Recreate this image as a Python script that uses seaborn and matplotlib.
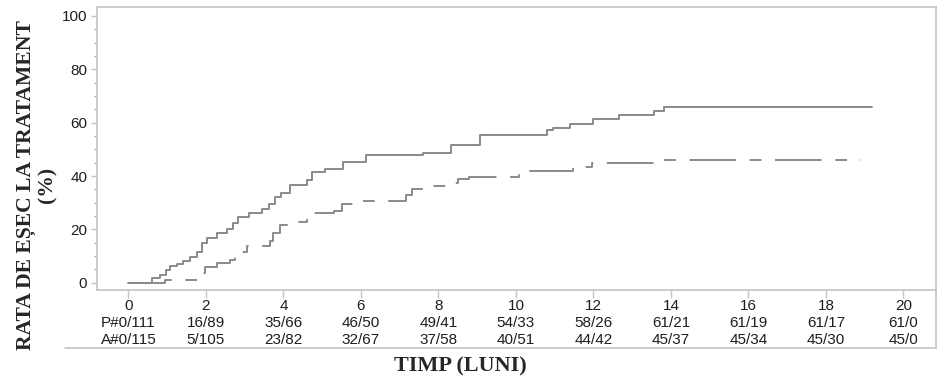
import matplotlib
matplotlib.use("Agg")
import matplotlib.pyplot as plt
import numpy as np
import pandas as pd
import seaborn as sns

# Kaplan-Meier style step curves (change points, steps-post)
P_TIME = [0, 0.61, 0.82, 0.98, 1.08, 1.25, 1.42, 1.6, 1.77, 1.9, 2.02, 2.28, 2.54, 2.71,
          2.84, 3.1, 3.45, 3.62, 3.78, 3.95, 4.17, 4.62, 4.75, 5.07, 5.54, 6.14, 7.6,
          8.33, 9.06, 10.8, 10.95, 11.4, 12.0, 12.66, 13.56, 13.82, 19.2]
P_RATE = [0, 1.7, 3, 4.9, 6.3, 7, 8, 9.8, 11.7, 14.8, 16.7, 18.5, 20, 22.3,
          24.7, 26, 27.5, 29.5, 32.3, 33.7, 36.5, 38.4, 41.5, 42.8, 45.3, 47.8, 48.6,
          51.5, 55.5, 57.1, 58, 59.6, 61.2, 62.8, 64.3, 66, 66]

A_TIME = [0, 0.95, 1.9, 1.98, 2.28, 2.62, 2.75, 2.88, 3.05, 3.65, 3.74, 3.91, 4.2,
          4.62, 4.8, 5.3, 5.5, 5.8, 6.2, 7.16, 7.33, 7.68, 8.2, 8.5, 8.8, 10.09,
          10.35, 11.46, 11.97, 13.8, 18.9]
A_RATE = [0, 1, 3.6, 5.9, 7.4, 8.6, 10.5, 11.7, 13.6, 15.5, 18.6, 21.5, 22.8,
          24.8, 26, 27, 29.7, 30.5, 30.8, 33, 35, 36.2, 37.2, 38.7, 39.7, 40.7,
          41.9, 43.4, 44.7, 45.9, 45.9]

# numbers at risk table
TICKS = [0, 2, 4, 6, 8, 10, 12, 14, 16, 18, 20]
P_RISK = ["P#0/111", "16/89", "35/66", "46/50", "49/41", "54/33", "58/26",
          "61/21", "61/19", "61/17", "61/0"]
A_RISK = ["A#0/115", "5/105", "23/82", "32/67", "37/58", "40/51", "44/42",
          "45/37", "45/34", "45/30", "45/0"]

LINE = "#8a8a8a"
SPINE = "#c4c4c4"
TXT = "#1e1e1e"

sns.set_theme(style="white")
plt.rcParams["font.family"] = ["Liberation Sans", "DejaVu Sans"]

fig = plt.figure(figsize=(9.44, 3.87), dpi=100, facecolor="white")
ax = fig.add_axes([0.1028, 0.2506, 0.8887, 0.7313])

p_df = pd.DataFrame({"t": P_TIME, "v": P_RATE})
a_df = pd.DataFrame({"t": A_TIME, "v": A_RATE})
sns.lineplot(data=p_df, x="t", y="v", ax=ax, drawstyle="steps-post", color=LINE,
             lw=1.4, estimator=None, sort=False)
sns.lineplot(data=a_df, x="t", y="v", ax=ax, drawstyle="steps-post", color=LINE,
             lw=1.4, estimator=None, sort=False, dashes=False)
ax.lines[1].set_dashes((24, 7, 6, 7))

ax.set_xlim(-0.81, 20.84)
ax.set_ylim(-2.7, 103.3)
ax.set_xticks(TICKS)
ax.set_xticklabels([])
ax.set_yticks([0, 20, 40, 60, 80, 100])
ax.set_yticks(np.arange(0, 101, 5), minor=True)
ax.tick_params(axis="x", which="major", direction="out", length=6, width=1,
               color=SPINE, bottom=True)
ax.tick_params(axis="y", which="major", direction="out", length=4, width=1,
               color=SPINE, left=True, labelsize=11, labelcolor=TXT, pad=3)
ax.tick_params(axis="y", which="minor", direction="out", length=2, width=0.8,
               color="#b89a9a", left=True)
ax.set_xlabel("")
ax.set_ylabel("")

for s in ax.spines.values():
    s.set_color(SPINE)
    s.set_linewidth(1.2)

# risk table under the axis
trans = ax.get_xaxis_transform()
for t, p, a in zip(TICKS, P_RISK, A_RISK):
    ax.text(t, -0.057, str(t), transform=trans, ha="center", va="center",
            fontsize=11, color=TXT, clip_on=False)
    ax.text(t, -0.117, p, transform=trans, ha="center", va="center",
            fontsize=11, color=TXT, clip_on=False)
    ax.text(t, -0.177, a, transform=trans, ha="center", va="center",
            fontsize=11, color=TXT, clip_on=False)

# frame around the table
ax.plot([-0.038, 1.0], [-0.205, -0.205], transform=ax.transAxes, color=SPINE,
        lw=1.2, clip_on=False)
ax.plot([1.0, 1.0], [0, -0.205], transform=ax.transAxes, color=SPINE,
        lw=1.2, clip_on=False)

fig.text(0.039, 0.522, "RATA DE EȘEC LA TRATAMENT\n(%)", rotation=90,
         ha="center", va="center", fontsize=15.6, fontweight="bold",
         family=["Liberation Serif", "DejaVu Serif"], linespacing=1.15,
         multialignment="center")
fig.text(0.488, 0.054, "TIMP (LUNI)", ha="center", va="center", fontsize=16,
         fontweight="bold", family=["Liberation Serif", "DejaVu Serif"])

fig.savefig("out.png", dpi=100, facecolor="white")
